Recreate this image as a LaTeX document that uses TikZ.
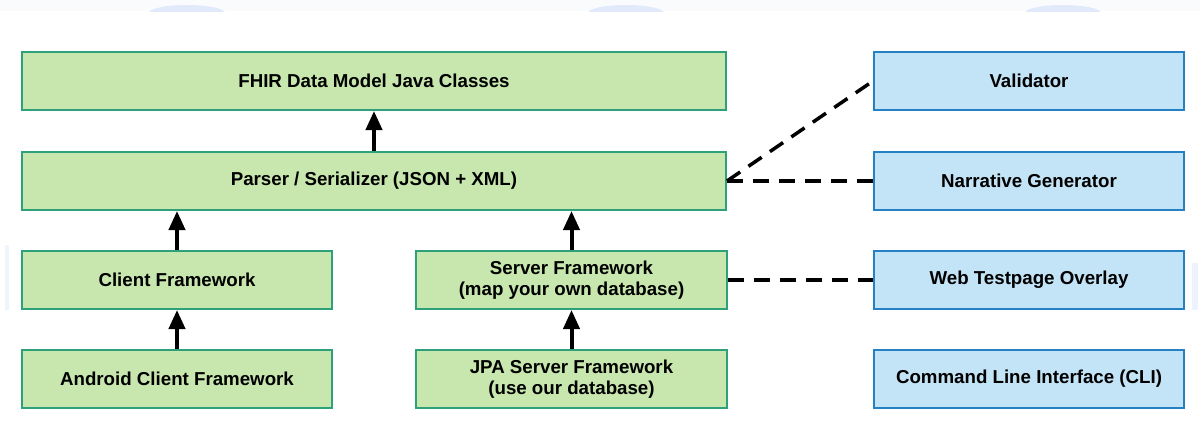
\documentclass[tikz,border=0pt]{standalone}
\usepackage{fontspec}
\setmainfont{Liberation Sans}
\usetikzlibrary{arrows.meta}

\definecolor{gfill}{RGB}{199,231,174}
\definecolor{gline}{RGB}{46,160,122}
\definecolor{bfill}{RGB}{195,227,246}
\definecolor{bline}{RGB}{38,128,196}
\definecolor{haze}{RGB}{250,251,253}
\definecolor{blob}{RGB}{224,234,251}

\tikzset{
  boxbase/.style={rectangle, line width=2pt, minimum height=58pt, inner sep=0pt,
    align=center, font=\bfseries\fontsize{18.7}{21}\selectfont},
  gbox/.style={boxbase, draw=gline, fill=gfill},
  bbox/.style={boxbase, draw=bline, fill=bfill, minimum width=310pt},
  uparrow/.style={line width=4pt, -{Triangle[length=19pt,width=16pt]}},
  dashline/.style={line width=3.5pt, dash pattern=on 16pt off 10pt}
}

\begin{document}
\begin{tikzpicture}[x=1pt,y=-1pt]
  \useasboundingbox (0,0) rectangle (1200,421);
  \fill[white] (0,0) rectangle (1200,421);

  % faint page backdrop along the top edge and sides
  \fill[haze] (0,0) rectangle (1200,11);
  \begin{scope}
    \clip (0,0) rectangle (1200,11);
    \foreach \cx in {187,626,1063}
      \fill[blob] (\cx,13) ellipse [x radius=38, y radius=8];
  \end{scope}
  \fill[blob!50] (5,245) rectangle (9,310);
  \fill[blob!60] (1192,263) rectangle (1198,310);

  % core library stack
  \node[gbox, minimum width=704pt] (fhir)    at (374,81)  {FHIR Data Model Java Classes};
  \node[gbox, minimum width=704pt] (parser)  at (374,181) {Parser / Serializer (JSON + XML)};
  \node[gbox, minimum width=310pt] (client)  at (177,280) {Client Framework};
  \node[gbox, minimum width=311pt] (server)  at (571.5,280) {Server Framework\\(map your own database)};
  \node[gbox, minimum width=310pt] (android) at (177,379) {Android Client Framework};
  \node[gbox, minimum width=311pt] (jpa)     at (571.5,379) {JPA Server Framework\\(use our database)};

  % add-on modules
  \node[bbox] (validator) at (1029,81)  {Validator};
  \node[bbox] (narrative) at (1029,181) {Narrative Generator};
  \node[bbox] (overlay)   at (1029,280) {Web Testpage Overlay};
  \node[bbox] (cli)       at (1029,379) {Command Line Interface (CLI)};

  % dependencies
  \draw[uparrow] (parser.north) -- (fhir.south);
  \draw[uparrow] (client.north) -- (client.north |- parser.south);
  \draw[uparrow] (server.north) -- (server.north |- parser.south);
  \draw[uparrow] (android.north) -- (client.south);
  \draw[uparrow] (jpa.north) -- (server.south);

  % optional module links
  \draw[dashline] (parser.east) -- (validator.west);
  \draw[dashline] (parser.east) -- (narrative.west);
  \draw[dashline] (server.east) -- (overlay.west);
\end{tikzpicture}
\end{document}
